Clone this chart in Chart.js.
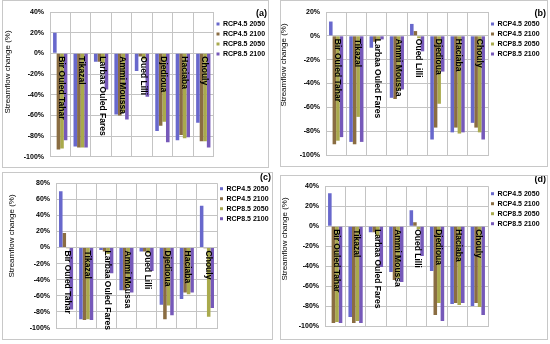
<!DOCTYPE html>
<html>
<head>
<meta charset="utf-8">
<script src="https://cdn.jsdelivr.net/npm/chart.js@4.4.0/dist/chart.umd.min.js"></script>
<style>
  html, body { margin: 0; padding: 0; background: #fff; }
  body { width: 550px; height: 344px; position: relative; overflow: hidden; }
  .panel { position: absolute; border: 1px solid #c8c8c8; box-sizing: border-box; background: #fff; }
  .panel canvas { position: absolute; left: 0; top: 0; }
</style>
</head>
<body>
<script>
// stations and scenarios
const stations = ["Bir Ouled Tahar", "Tikazal", "Larbaa Ouled Fares", "Ammi Moussa", "Oued Lilli", "Djedioua", "Haciaba", "Chouly"]
const scenarios = ["RCP4.5 2050", "RCP4.5 2100", "RCP8.5 2050", "RCP8.5 2100"]
const panelTags = ["(a)", "(b)", "(c)", "(d)"]
const yMaxes = [40, 20, 80, 40]
const yMin = -100
const yStep = 20

// streamflow change (%), panel (a)
const a45_2050 = [20, -90, -8, -59, -17, -75, -84, -67]
const a45_2100 = [-93, -91, -8, -60, -3, -70, -79, -85]
const a85_2050 = [-92, -91, -9, -57, -6, -66, -82, -85]
const a85_2100 = [-84, -91, -35, -64, -42, -86, -81, -91]
// panel (b)
const b45_2050 = [12, -89, -10, -52, 10, -87, -81, -73]
const b45_2100 = [-91, -91, -5, -53, 4, -77, -77, -77]
const b85_2050 = [-88, -68, -4, -46, -2, -57, -82, -81]
const b85_2100 = [-85, -89, -3, -45, -13, -30, -81, -87]
// panel (c)
const c45_2050 = [70, -89, -3, -53, -5, -71, -64, 52]
const c45_2100 = [18, -90, -5, -53, -5, -89, -56, -1]
const c85_2050 = [-1, -89, -8, -50, -7, -72, -58, -86]
const c85_2100 = [-77, -90, -32, -56, -29, -84, -56, -75]
// panel (d)
const d45_2050 = [33, -91, -6, -46, 16, -45, -78, -80]
const d45_2100 = [-97, -97, -6, -54, 4, -89, -77, -77]
const d85_2050 = [-96, -95, -10, -52, -3, -77, -79, -81]
const d85_2100 = [-97, -97, -41, -56, -30, -95, -77, -89]

const panelSeries = [
  [a45_2050, a45_2100, a85_2050, a85_2100],
  [b45_2050, b45_2100, b85_2050, b85_2100],
  [c45_2050, c45_2100, c85_2050, c85_2100],
  [d45_2050, d45_2100, d85_2050, d85_2100]
]

const colors = ["#6868cc", "#8a6d42", "#a9aa4c", "#7659b9"]
const gridColor = "#c4c4c4"
const fontFamily = '"Liberation Sans", Arial, sans-serif'
Chart.defaults.font.family = fontFamily

// page geometry: frame [x, y, w, h], plot [left, top, right, bottom],
// y-title centre, tag centre y, gap above the legend items
const layouts = [
  { frame: [2, 0, 267, 168], plot: [50, 12, 213.5, 162], titleX: 8, titleY: 72, tagY: 14, gap: 4.5 },
  { frame: [280, 0, 268, 167], plot: [326, 12, 488, 155], titleX: 283.5, titleY: 65, tagY: 14, gap: 4.5 },
  { frame: [2, 172, 271, 168], plot: [56, 179, 217, 328], titleX: 11.5, titleY: 236, tagY: 177.5, gap: 2.2 },
  { frame: [280, 175, 268, 165], plot: [325, 179, 488, 326], titleX: 285, titleY: 239, tagY: 180, gap: 7.2 }
]

// station names run down from the zero line, plus the rotated y title and panel tag
function labelPlugin(p, tag, cx, cy, cw) {
  return {
    id: "stationLabels",
    afterDatasetsDraw(chart) {
      const { ctx, scales: { x, y } } = chart
      const y0 = y.getPixelForValue(0)
      ctx.save()
      ctx.fillStyle = "#000"
      ctx.font = "bold 8.5px " + fontFamily
      ctx.textAlign = "left"
      ctx.textBaseline = "middle"
      chart.data.labels.forEach((name, i) => {
        ctx.save()
        ctx.translate(x.getPixelForValue(i) + 1, y0 + 3)
        ctx.rotate(Math.PI / 2)
        ctx.fillText(name, 0, 0)
        ctx.restore()
      })

      ctx.font = "bold 9px " + fontFamily
      ctx.textAlign = "right"
      ctx.fillText(tag, cw - 1, p.tagY - cy)

      ctx.font = "8px " + fontFamily
      ctx.textAlign = "center"
      ctx.translate(p.titleX - cx, p.titleY - cy)
      ctx.rotate(-Math.PI / 2)
      ctx.fillText("Streamflow change (%)", 0, 0)
      ctx.restore()
    }
  }
}

function makePanel(idx) {
  const p = layouts[idx]
  const [fx, fy, fw, fh] = p.frame
  const div = document.createElement("div")
  div.className = "panel"
  div.style.left = fx + "px"
  div.style.top = fy + "px"
  div.style.width = fw + "px"
  div.style.height = fh + "px"
  const canvas = document.createElement("canvas")
  const cw = fw - 2, ch = fh - 2
  canvas.width = cw
  canvas.height = ch
  canvas.style.width = cw + "px"
  canvas.style.height = ch + "px"
  div.appendChild(canvas)
  document.body.appendChild(div)

  const cx = fx + 1, cy = fy + 1

  new Chart(canvas, {
    type: "bar",
    data: {
      labels: stations,
      datasets: panelSeries[idx].map((values, i) => ({
        label: scenarios[i],
        data: values,
        backgroundColor: colors[i],
        barPercentage: 1,
        categoryPercentage: 0.7
      }))
    },
    options: {
      responsive: false,
      animation: false,
      devicePixelRatio: 1,
      layout: { padding: { top: p.plot[1] - cy, bottom: cy + ch - p.plot[3], left: 0, right: 0 } },
      scales: {
        x: {
          ticks: { display: false },
          grid: { color: gridColor, drawTicks: false, offset: true },
          border: { color: gridColor },
          afterFit(s) { s.height = 0 }
        },
        y: {
          min: yMin,
          max: yMaxes[idx],
          ticks: {
            stepSize: yStep,
            callback: v => v + "%",
            font: { size: 7, weight: "bold" },
            color: "#000",
            padding: 6
          },
          grid: { color: gridColor, drawTicks: false },
          border: { color: gridColor },
          afterFit(s) { s.width = p.plot[0] - cx }
        }
      },
      plugins: {
        legend: {
          position: "right",
          align: "start",
          maxWidth: cx + cw - p.plot[2],
          labels: {
            boxWidth: 3,
            boxHeight: 3,
            padding: 3,
            color: "#000",
            font: { size: 7, weight: "bold" }
          },
          // empty title used only as a spacer above the items
          title: {
            display: true,
            text: "",
            font: { size: 1, lineHeight: 1 },
            padding: { top: 0, bottom: p.gap }
          }
        },
        tooltip: { enabled: false }
      }
    },
    plugins: [labelPlugin(p, panelTags[idx], cx, cy, cw)]
  })
}

for (let i = 0; i < 4; i++) makePanel(i)
</script>
</body>
</html>
